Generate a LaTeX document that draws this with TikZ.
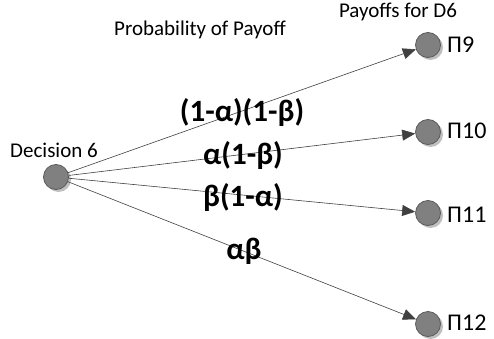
\documentclass[tikz,border=0pt]{standalone}
\usepackage{fontspec}
\setmainfont{Carlito}
\usetikzlibrary{arrows.meta,shadows}
\definecolor{dotfill}{HTML}{808080}
\definecolor{dotline}{HTML}{5A5A5A}
\definecolor{edgecol}{HTML}{404040}
\tikzset{
  dot/.style={circle,draw=dotline,fill=dotfill,line width=0.8pt,minimum size=25pt,inner sep=0pt,
    drop shadow={shadow xshift=2.5pt,shadow yshift=-2.5pt,opacity=0.25,fill=black}},
  edge/.style={draw=edgecol,line width=0.6pt,-{Triangle[length=13pt,width=11pt]}},
  txt/.style={font=\fontsize{21}{24}\selectfont,inner sep=0pt},
  plab/.style={font=\fontsize{24}{27}\selectfont,inner sep=0pt,anchor=west},
  elab/.style={font=\bfseries\fontsize{31}{34}\selectfont,inner sep=0pt}
}
\begin{document}
\begin{tikzpicture}[x=1pt,y=-1pt]
\useasboundingbox (0,0) rectangle (494,339);
\node[dot] (d) at (56,177) {};
\node[dot] (p9) at (428,45) {};
\node[dot] (p10) at (428,132) {};
\node[dot] (p11) at (428,213) {};
\node[dot] (p12) at (428,324) {};
\draw[edge] (d) -- (p9);
\draw[edge] (d) -- (p10);
\draw[edge] (d) -- (p11);
\draw[edge] (d) -- (p12);
\node[txt] (tdec) at (54,150) {Decision 6};
\node[txt] (tprob) at (200,30) {Probability of Payoff};
\node[txt] (tpay) at (398,12) {Payoffs for D6};
\node[plab] (l9) at (447,44.5) {П9};
\node[plab] (l10) at (447,130.5) {П10};
\node[plab] (l11) at (447,214.5) {П11};
\node[plab] (l12) at (447,322.5) {П12};
\node[elab] (e1) at (242,112) {(1-α)(1-β)};
\node[elab] (e2) at (243,155) {α(1-β)};
\node[elab] (e3) at (243,197) {β(1-α)};
\node[elab] (e4) at (244,251) {αβ};
\end{tikzpicture}
\end{document}
